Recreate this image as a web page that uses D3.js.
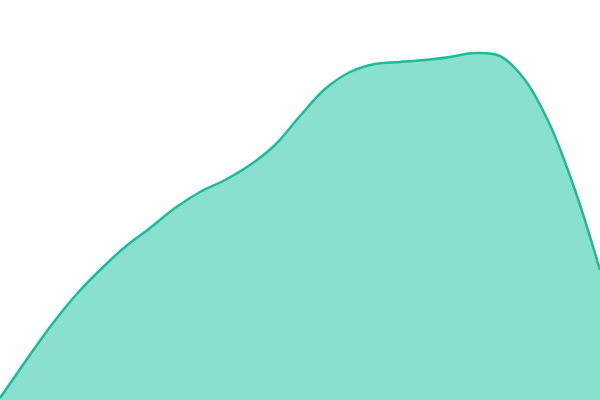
<!DOCTYPE html>
<html>
<head>
<meta charset="utf-8">
<script src="https://cdn.jsdelivr.net/npm/d3@7"></script>
<style>
  body { margin: 0; background: #fff; }
  svg { display: block; }
</style>
</head>
<body>
<div class="chart"></div>
<script>
// sample positions (every step along x) and values
var steps = [0, 1, 2, 3, 4, 5, 6, 7, 8, 9, 10, 11, 12, 13, 14, 15, 16, 17, 18, 19, 20, 21, 22, 23, 24];
var values = [0.5, 9.5, 18.25, 26, 32.5, 38.25, 43, 48, 52, 55, 58.75, 63.75, 71, 77.75, 82, 84, 84.5, 85, 85.75, 86.75, 86, 80, 68.75, 52.5, 32.5];

var width = 600, height = 400;

var data = steps.map(function(s, i) { return {step: s, value: values[i]}; });

var svg = d3.select(".chart")
    .append("svg")
    .attr("width", width)
    .attr("height", height);

var x = d3.scaleLinear()
    .domain([0, 24])
    .range([0, width]);

var y = d3.scaleLinear()
    .domain([0, 100])
    .range([height, 0]);

var area = d3.area()
    .x(function(d) { return x(d.step); })
    .y0(height + 5)
    .y1(function(d) { return y(d.value); })
    .curve(d3.curveCatmullRom);

var line = d3.line()
    .x(function(d) { return x(d.step); })
    .y(function(d) { return y(d.value); })
    .curve(d3.curveCatmullRom);

svg.append("path")
    .datum(data)
    .attr("d", area)
    .style("fill", "#8ae0cf");

svg.append("path")
    .datum(data)
    .attr("d", line)
    .style("fill", "none")
    .style("stroke", "#1dbb99")
    .style("stroke-width", 2.5);
</script>
</body>
</html>
